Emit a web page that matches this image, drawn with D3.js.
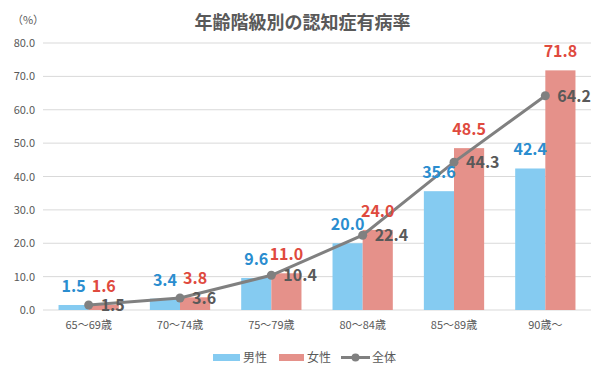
<!DOCTYPE html>
<html><head><meta charset="utf-8">
<script src="https://cdn.jsdelivr.net/npm/d3@7"></script>
<style>body{margin:0;background:#fff}svg{display:block}</style>
</head><body>
<script>
const categories = ["65～69歳","70～74歳","75～79歳","80～84歳","85～89歳","90歳～"];
const male = [1.5, 3.4, 9.6, 20.0, 35.6, 42.4];
const female = [1.6, 3.8, 11.0, 24.0, 48.5, 71.8];
const total = [1.5, 3.6, 10.4, 22.4, 44.3, 64.2];
const yTicks = [0,10,20,30,40,50,60,70,80];
const seriesNames = ["男性","女性","全体"];
const title = "年齢階級別の認知症有病率";

const W=605,H=382;
const font = "'Noto Sans CJK JP','Noto Sans',sans-serif";
const svg = d3.select("body").append("svg").attr("width",W).attr("height",H).style("font-family",font);
const m = {l:43, r:14, t:43, b:72};
const x = d3.scaleBand().domain(categories).range([m.l, W-m.r]).paddingInner(0.34).paddingOuter(0.17);
const xs = d3.scaleBand().domain([0,1]).range([0, x.bandwidth()]);
const y = d3.scaleLinear().domain([0,80]).range([H-m.b, m.t]);

const cMale="#85CBF1", cFemale="#E5918A", cLine="#808080";
const cMaleT="#2A8DCF", cFemaleT="#DF4A3E", cLineT="#595959";

// grid
svg.append("g").selectAll("line").data(yTicks).join("line")
 .attr("x1",m.l).attr("x2",W-m.r).attr("y1",d=>y(d)).attr("y2",d=>y(d))
 .attr("stroke","#D9D9D9").attr("stroke-width",1);
// y axis labels
const yAxis = d3.axisLeft(y).tickValues(yTicks).tickFormat(d3.format(".1f")).tickSize(0).tickPadding(8);
const ga = svg.append("g").attr("transform",`translate(${m.l},0)`).call(yAxis);
ga.select(".domain").remove();
ga.selectAll("text").attr("font-size",11).attr("fill","#595959").attr("font-family",font);
svg.append("text").attr("x",28).attr("y",24).attr("text-anchor","middle").attr("font-size",11).attr("fill","#595959").text("（%）");

// x axis labels
const xAxis = d3.axisBottom(x).tickSize(0).tickPadding(11);
const gx = svg.append("g").attr("transform",`translate(0,${y(0)})`).call(xAxis);
gx.select(".domain").remove();
gx.selectAll("text").attr("font-size",11).attr("fill","#595959").attr("font-family",font);

// bars
const g = svg.append("g");
g.selectAll(".m").data(male).join("rect").attr("x",(d,i)=>x(categories[i])+xs(0)).attr("width",xs.bandwidth())
 .attr("y",d=>y(d)).attr("height",d=>y(0)-y(d)).attr("fill",cMale);
g.selectAll(".f").data(female).join("rect").attr("x",(d,i)=>x(categories[i])+xs(1)).attr("width",xs.bandwidth())
 .attr("y",d=>y(d)).attr("height",d=>y(0)-y(d)).attr("fill",cFemale);

// line
const cx = i => x(categories[i]) + x.bandwidth()/2;
svg.append("path").datum(total).attr("fill","none").attr("stroke",cLine).attr("stroke-width",3)
 .attr("d", d3.line().x((d,i)=>cx(i)).y(d=>y(d)));
svg.append("g").selectAll("circle").data(total).join("circle").attr("cx",(d,i)=>cx(i)).attr("cy",d=>y(d)).attr("r",4.5).attr("fill",cLine);

// labels
const fmt = d3.format(".1f");
const lab = svg.append("g").attr("font-size",16).attr("font-weight","bold");
lab.selectAll(".ml").data(male).join("text").attr("x",(d,i)=>x(categories[i])+xs(0)+xs.bandwidth()/2).attr("y",d=>y(d)-13)
 .attr("text-anchor","middle").attr("fill",cMaleT).text(fmt);
lab.selectAll(".fl").data(female).join("text").attr("x",(d,i)=>x(categories[i])+xs(1)+xs.bandwidth()/2).attr("y",d=>y(d)-13)
 .attr("text-anchor","middle").attr("fill",cFemaleT).text(fmt);
lab.selectAll(".tl").data(total).join("text").attr("x",(d,i)=>cx(i)+12).attr("y",d=>y(d)+6)
 .attr("text-anchor","start").attr("fill",cLineT).text(fmt);

// title
svg.append("text").attr("x",W/2).attr("y",29).attr("text-anchor","middle").attr("font-size",18).attr("font-weight","bold").attr("fill","#595959").text(title);

// legend
const lg = svg.append("g").attr("font-size",12).attr("fill","#595959");
lg.append("rect").attr("x",213).attr("y",354).attr("width",27).attr("height",7).attr("fill",cMale);
lg.append("text").attr("x",243).attr("y",362).text(seriesNames[0]);
lg.append("rect").attr("x",279).attr("y",354).attr("width",25).attr("height",7).attr("fill",cFemale);
lg.append("text").attr("x",307).attr("y",362).text(seriesNames[1]);
lg.append("line").attr("x1",341).attr("x2",370).attr("y1",357.5).attr("y2",357.5).attr("stroke",cLine).attr("stroke-width",3);
lg.append("circle").attr("cx",355.5).attr("cy",357.5).attr("r",4).attr("fill",cLine);
lg.append("text").attr("x",372).attr("y",362).text(seriesNames[2]);
</script>
</body></html>
